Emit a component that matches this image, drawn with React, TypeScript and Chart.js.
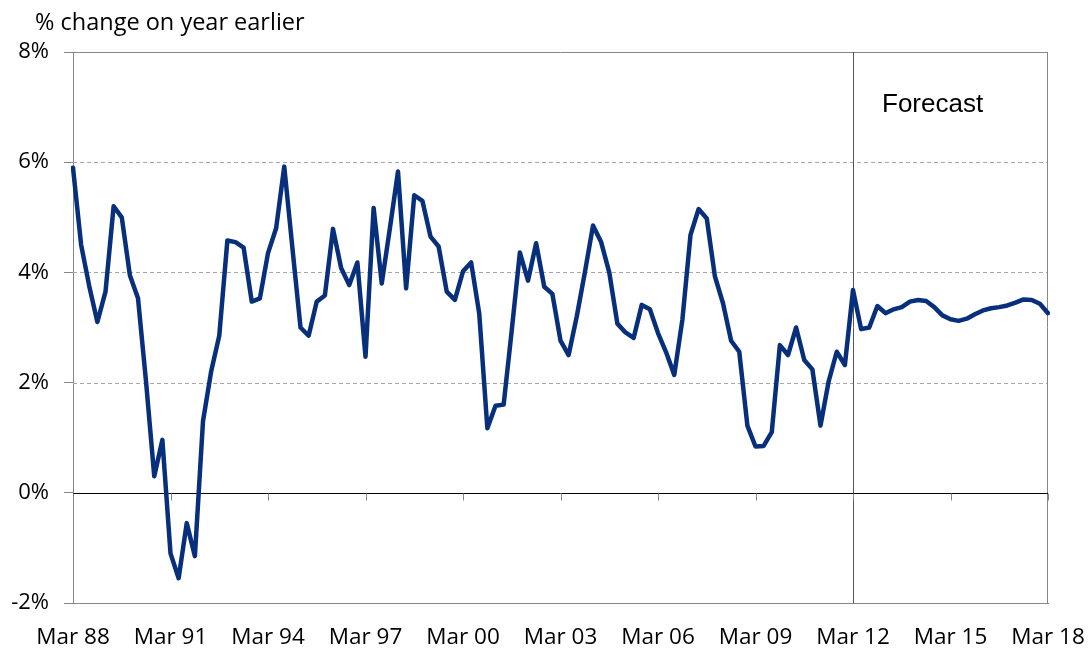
import React, { useEffect, useRef } from 'react';
import { Chart, registerables } from 'chart.js';

Chart.register(...registerables);

// Quarterly categories, Mar 88 .. Mar 18
const years: number[] = Array.from({ length: 31 }, (_, i) => 1988 + i);
const quarterMonths: string[] = ['Mar', 'Jun', 'Sep', 'Dec'];
const quarterLabels: string[] = [];
years.forEach((yr) => {
  quarterMonths.forEach((m) => {
    if (yr === 2018 && m !== 'Mar') return;
    quarterLabels.push(`${m} ${String(yr % 100).padStart(2, '0')}`);
  });
});

// % change on year earlier
const growth: number[] = [
  5.9, 4.5, 3.75, 3.1, 3.65, 5.2, 5.0, 3.95, 3.53, 2.0,
  0.3, 0.96, -1.1, -1.55, -0.55, -1.15, 1.3, 2.2, 2.85, 4.58,
  4.55, 4.45, 3.47, 3.53, 4.35, 4.8, 5.92, 4.45, 3.0, 2.85,
  3.47, 3.58, 4.79, 4.08, 3.77, 4.18, 2.47, 5.17, 3.8, 4.8,
  5.83, 3.71, 5.4, 5.3, 4.65, 4.47, 3.65, 3.5, 4.02, 4.18,
  3.25, 1.17, 1.58, 1.6, 2.95, 4.36, 3.85, 4.53, 3.74, 3.61,
  2.76, 2.5, 3.2, 4.0, 4.85, 4.55, 4.0, 3.07, 2.91, 2.81,
  3.41, 3.33, 2.9, 2.55, 2.14, 3.14, 4.68, 5.15, 4.98, 3.93,
  3.44, 2.76, 2.56, 1.22, 0.84, 0.85, 1.1, 2.68, 2.5, 3.0,
  2.41, 2.24, 1.22, 2.02, 2.56, 2.32, 3.68, 2.97, 3.0, 3.39,
  3.26, 3.33, 3.37, 3.47, 3.5, 3.48, 3.37, 3.22, 3.15, 3.12,
  3.16, 3.24, 3.31, 3.35, 3.37, 3.4, 3.45, 3.51, 3.5, 3.43,
  3.26,
];

const yTicks: number[] = [-2, 0, 2, 4, 6, 8];
const dashedGrid: number[] = [2, 4, 6];
const forecastStart = 'Mar 12';
const tickEvery = 12;
const yTitle = '% change on year earlier';
const forecastText = 'Forecast';

const LINE_COLOR = '#072f7c';
const AXIS_GREY = '#868686';
const FONT = '"Open Sans", Lato, sans-serif';

const overlay = {
  id: 'overlay',
  beforeDatasetsDraw(chart: any) {
    const { ctx, chartArea: a, scales } = chart;
    const x = scales.x;
    const y = scales.y;
    const hline = (py: number, x1: number, x2: number) => {
      ctx.beginPath();
      ctx.moveTo(x1, py);
      ctx.lineTo(x2, py);
      ctx.stroke();
    };
    const vline = (px: number, y1: number, y2: number) => {
      ctx.beginPath();
      ctx.moveTo(px, y1);
      ctx.lineTo(px, y2);
      ctx.stroke();
    };
    ctx.save();
    ctx.lineWidth = 1;
    // dashed gridlines
    ctx.strokeStyle = '#a8a8a8';
    ctx.setLineDash([4, 3]);
    dashedGrid.forEach((v) => {
      const py = Math.round(y.getPixelForValue(v)) + 0.5;
      hline(py, a.left, a.right);
    });
    ctx.setLineDash([]);
    // top & right border
    ctx.strokeStyle = AXIS_GREY;
    hline(Math.round(a.top) + 0.5, a.left, a.right);
    vline(Math.round(a.right) - 0.5, a.top, a.bottom);
    // forecast divider
    ctx.strokeStyle = '#555555';
    const fx = Math.round(x.getPixelForValue(quarterLabels.indexOf(forecastStart))) + 0.5;
    vline(fx, a.top, a.bottom);
    // zero line
    const y0 = Math.round(y.getPixelForValue(0)) + 0.5;
    ctx.strokeStyle = '#000000';
    hline(y0, a.left, a.right);
    // x tick marks on the zero line
    ctx.strokeStyle = AXIS_GREY;
    for (let i = 0; i < quarterLabels.length; i += tickEvery) {
      const px = Math.round(x.getPixelForValue(i)) + 0.5;
      vline(px, y0, y0 + 7);
    }
    ctx.restore();
  },
  afterDraw(chart: any) {
    const { ctx } = chart;
    ctx.save();
    ctx.fillStyle = '#000000';
    ctx.textBaseline = 'alphabetic';
    ctx.textAlign = 'left';
    ctx.font = `23.5px ${FONT}`;
    ctx.fillText(yTitle, 35, 30);
    ctx.font = '26px "Liberation Sans", Arial, sans-serif';
    ctx.fillText(forecastText, 882, 112);
    ctx.restore();
  },
};

export default function App() {
  const ref = useRef<HTMLCanvasElement>(null);
  useEffect(() => {
    const canvas = ref.current;
    if (!canvas) return;
    const chart = new Chart(canvas, {
      type: 'line',
      data: {
        labels: quarterLabels,
        datasets: [
          {
            data: growth,
            borderColor: LINE_COLOR,
            borderWidth: 4.5,
            pointRadius: 0,
            tension: 0,
            fill: false,
            borderJoinStyle: 'round',
            borderCapStyle: 'round',
          },
        ],
      },
      options: {
        responsive: false,
        animation: false,
        layout: { padding: { top: 52, right: 44, bottom: 0, left: 0 } },
        plugins: {
          legend: { display: false },
          tooltip: { enabled: false },
          title: { display: false },
        },
        scales: {
          x: {
            type: 'category',
            offset: false,
            grid: { display: false, drawTicks: false },
            border: { display: true, color: AXIS_GREY, width: 1 },
            ticks: {
              autoSkip: false,
              maxRotation: 0,
              minRotation: 0,
              padding: 21,
              color: '#000000',
              font: { family: FONT, size: 22.5 },
              callback: (_v: any, i: number) => (i % tickEvery === 0 ? quarterLabels[i] : null),
            },
            afterFit: (s: any) => {
              s.height = 48;
              s.paddingLeft = 0;
              s.paddingRight = 0;
            },
          },
          y: {
            min: yTicks[0],
            max: yTicks[yTicks.length - 1],
            afterBuildTicks: (s: any) => {
              s.ticks = yTicks.map((v) => ({ value: v }));
            },
            grid: { drawOnChartArea: false, drawTicks: true, tickLength: 9, tickColor: AXIS_GREY },
            border: { display: true, color: AXIS_GREY, width: 1 },
            ticks: {
              padding: 15,
              color: '#000000',
              font: { family: FONT, size: 22 },
              callback: (v: any) => `${v}%`,
            },
            afterFit: (s: any) => {
              s.width = 73;
              s.paddingTop = 0;
              s.paddingBottom = 0;
            },
          },
        },
      },
      plugins: [overlay],
    });
    return () => chart.destroy();
  }, []);
  return (
    <div style={{ position: 'fixed', left: 0, top: 0, width: 1092, height: 651, background: '#ffffff' }}>
      <canvas ref={ref} width={1092} height={651} />
    </div>
  );
}
